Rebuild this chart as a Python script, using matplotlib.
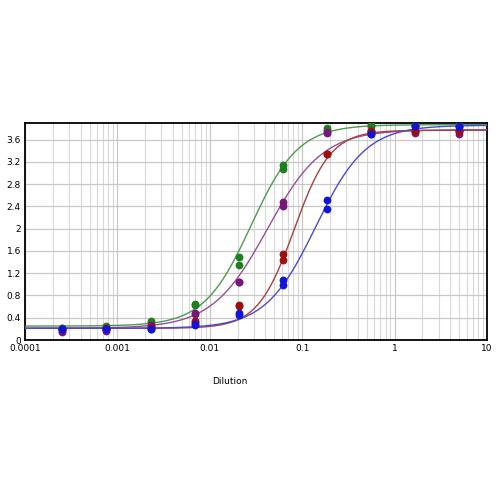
import numpy as np
import matplotlib
matplotlib.use("Agg")
import matplotlib.pyplot as plt
from matplotlib.ticker import LogLocator, FixedLocator, NullFormatter

# dilution series (3-fold)
dilution = [5.0, 1.667, 0.556, 0.185, 0.0617, 0.0206, 0.00686, 0.00229, 0.000762, 0.000254]

# replicate readings (two per dilution)
green_a = [3.86, 3.86, 3.86, 3.81, 3.14, 1.50, 0.64, 0.35, 0.25, 0.22]
green_b = [3.84, 3.85, 3.84, 3.78, 3.08, 1.35, 0.63, 0.33, 0.24, 0.22]
purple_a = [3.75, 3.76, 3.74, 3.74, 2.48, 1.05, 0.49, 0.27, 0.19, 0.16]
purple_b = [3.70, 3.72, 3.73, 3.72, 2.40, 1.04, 0.46, 0.26, 0.17, 0.15]
red_a = [3.76, 3.76, 3.76, 3.35, 1.54, 0.63, 0.34, 0.23, 0.21, 0.20]
red_b = [3.75, 3.75, 3.75, 3.34, 1.44, 0.62, 0.33, 0.22, 0.20, 0.20]
blue_a = [3.84, 3.85, 3.71, 2.51, 1.07, 0.48, 0.28, 0.20, 0.20, 0.20]
blue_b = [3.83, 3.84, 3.70, 2.35, 0.99, 0.45, 0.27, 0.20, 0.20, 0.20]

# 4PL fit parameters: bottom, top, ec50, hill slope
green_fit = [0.25, 3.87, 0.028, 1.7]
purple_fit = [0.21, 3.78, 0.042, 1.45]
red_fit = [0.21, 3.77, 0.082, 2.2]
blue_fit = [0.21, 3.86, 0.14, 1.6]


def four_pl(x, p):
    bottom, top, ec50, hill = p
    return bottom + (top - bottom) / (1 + (ec50 / x) ** hill)


series = [
    (green_a, green_b, green_fit, '#1e7f1e', '#4f9a4f'),
    (purple_a, purple_b, purple_fit, '#7a167a', '#9a4f9a'),
    (red_a, red_b, red_fit, '#a00d0d', '#a84040'),
    (blue_a, blue_b, blue_fit, '#1414d8', '#4a4ad8'),
]

fig = plt.figure(figsize=(5, 5), dpi=100)
ax = fig.add_axes([0.05, 0.32, 0.924, 0.434])

xs = np.logspace(-4, 1, 400)
for a, b, fit, mcol, lcol in series:
    ax.plot(xs, four_pl(xs, fit), color=lcol, lw=1.0, zorder=3)
for a, b, fit, mcol, lcol in series:
    ax.plot(dilution, a, 'o', color=mcol, ms=4.6, zorder=4)
    ax.plot(dilution, b, 'o', color=mcol, ms=4.6, zorder=4)

ax.set_xscale('log')
ax.set_xlim(0.0001, 10)
ax.set_ylim(0, 3.9)

ax.xaxis.set_major_locator(FixedLocator([0.0001, 0.001, 0.01, 0.1, 1, 10]))
ax.set_xticklabels(['0.0001', '0.001', '0.01', '0.1', '1', '10'])
ax.xaxis.set_minor_locator(LogLocator(base=10, subs=np.arange(2, 10), numticks=20))
ax.xaxis.set_minor_formatter(NullFormatter())
yt = [0, 0.4, 0.8, 1.2, 1.6, 2, 2.4, 2.8, 3.2, 3.6]
ax.set_yticks(yt)
ax.set_yticklabels(['0', '0.4', '0.8', '1.2', '1.6', '2', '2.4', '2.8', '3.2', '3.6'])

ax.grid(True, which='major', color='#c8c8c8', lw=0.9)
ax.grid(True, which='minor', axis='x', color='#d8d8d8', lw=0.8)
ax.tick_params(axis='both', which='both', length=0, labelsize=6.5, pad=3)
for s in ax.spines.values():
    s.set_linewidth(1.3)
    s.set_color('black')

fig.text(0.46, 0.238, 'Dilution', fontsize=6.5, ha='center', va='center')

fig.savefig('out.png', dpi=100)
